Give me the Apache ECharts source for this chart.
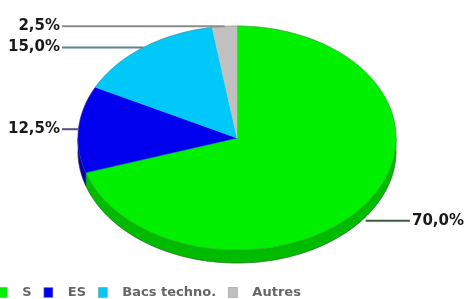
<!DOCTYPE html>
<html>
<head>
<meta charset="utf-8">
<script src="https://cdn.jsdelivr.net/npm/echarts@6/dist/echarts.min.js"></script>
<style>
html,body{margin:0;padding:0;background:#fff;}
#chart{width:467px;height:299px;}
</style>
</head>
<body>
<div id="chart"></div>
<script>
// ---- data ----
const categories = ['S', 'ES', 'Bacs techno.', 'Autres'];
const values = [70.0, 12.5, 15.0, 2.5];
const valueLabels = ['70,0%', '12,5%', '15,0%', '2,5%'];

// ---- styles ----
const topColors = ['#00f000', '#0000ee', '#00c8f8', '#c0c0c0'];
const rimColors = ['#00bb00', '#0000a8', '#0096c0', '#909090'];
const lineColors = ['#3c5a3c', '#505085', '#5b8595', '#8c8c8c'];
const geo = { cx: 237, cy: 138, rx: 159, ry: 112, depth: 13, frontLabelDrop: 4, leftCol: 60, rightCol: 412 };

const total = values.reduce((a, b) => a + b, 0);

function pt(t, dy) {
  return [geo.cx + geo.rx * Math.sin(t), geo.cy - geo.ry * Math.cos(t) + (dy || 0)];
}
function arc(a, b, dy) {
  const pts = [];
  const n = Math.max(2, Math.ceil((b - a) / (Math.PI / 180)));
  for (let k = 0; k <= n; k++) pts.push(pt(a + (b - a) * k / n, dy));
  return pts;
}

function makeRender(i) {
  return function (params, api) {
    const v = api.value(0);
    let before = 0;
    for (let j = 0; j < i; j++) before += values[j];
    const a = before / total * 2 * Math.PI;
    const b = a + v / total * 2 * Math.PI;
    const children = [];
    // rim (front half: PI/2 .. 3PI/2)
    const ra = Math.max(a, Math.PI / 2), rb = Math.min(b, 3 * Math.PI / 2);
    if (rb > ra) {
      const upper = arc(ra, rb, 0);
      const lower = arc(ra, rb, geo.depth).reverse();
      children.push({
        type: 'polygon', shape: { points: upper.concat(lower) },
        style: { fill: rimColors[i], stroke: rimColors[i], lineWidth: 0.5 }
      });
      children.push({
        type: 'polyline', shape: { points: arc(ra, rb, geo.depth) },
        style: { fill: null, stroke: 'rgba(60,60,60,0.45)', lineWidth: 1 }
      });
    }
    // top face
    const face = [[geo.cx, geo.cy]].concat(arc(a, b, 0));
    children.push({
      type: 'polygon', shape: { points: face },
      style: { fill: topColors[i], stroke: topColors[i], lineWidth: 0.5 }
    });
    children.push({
      type: 'polyline', shape: { points: arc(a, b, 0) },
      style: { fill: null, stroke: 'rgba(90,90,90,0.35)', lineWidth: 1 }
    });
    // label
    const m = (a + b) / 2;
    const front = Math.cos(m) < 0;
    const anchor = pt(m, front ? geo.depth + geo.frontLabelDrop : 0);
    const right = Math.sin(m) >= 0;
    const lx = right ? geo.rightCol - 2 : geo.leftCol + 2;
    children.push({
      type: 'line', z2: 10,
      shape: { x1: anchor[0], y1: anchor[1], x2: lx, y2: anchor[1] },
      style: { stroke: lineColors[i], lineWidth: 2 }
    });
    children.push({
      type: 'text', z2: 11,
      x: right ? geo.rightCol : geo.leftCol, y: anchor[1],
      style: {
        text: valueLabels[i], fill: '#1a1a1a',
        font: 'bold 15px "DejaVu Sans"',
        align: right ? 'left' : 'right', verticalAlign: 'middle'
      }
    });
    return { type: 'group', children: children };
  };
}

const chart = echarts.init(document.getElementById('chart'), null, { renderer: 'canvas' });
chart.setOption({
  animation: false,
  color: topColors,
  legend: {
    data: categories,
    left: -2, top: 286, padding: 0,
    icon: 'rect', itemWidth: 9, itemHeight: 10, itemGap: 12,
    itemStyle: { borderColor: '#888', borderWidth: 0.5 },
    textStyle: { color: '#666', fontWeight: 'bold', fontSize: 13, fontFamily: 'DejaVu Sans', padding: [0, 0, 0, 10] },
    selectedMode: false
  },
  series: categories.map((name, i) => ({
    type: 'custom', name: name, coordinateSystem: 'none',
    itemStyle: { color: topColors[i] },
    data: [[values[i]]],
    renderItem: makeRender(i)
  }))
});
</script>
</body>
</html>
